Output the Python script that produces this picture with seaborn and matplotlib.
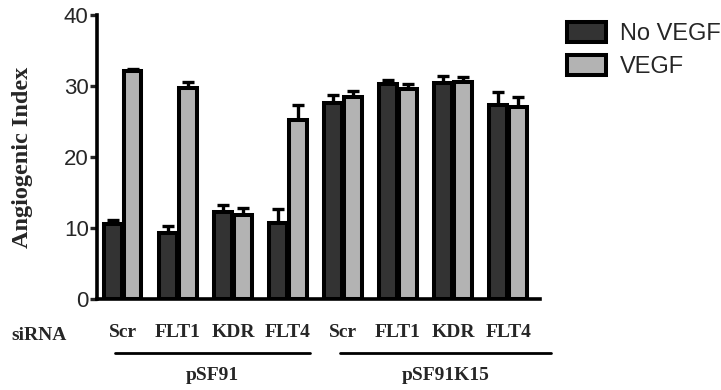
import numpy as np
import pandas as pd
import matplotlib
matplotlib.use("Agg")
import matplotlib.pyplot as plt
import matplotlib.transforms as mtransforms
import seaborn as sns

# ---------- data ----------
constructs = ["pSF91", "pSF91K15"]
sirnas = ["Scr", "FLT1", "KDR", "FLT4"]
treatments = ["No VEGF", "VEGF"]

no_vegf = [10.6, 9.3, 12.3, 10.7, 27.6, 30.3, 30.4, 27.3]
no_vegf_err = [0.5, 1.0, 1.0, 2.0, 1.2, 0.6, 1.0, 1.9]
vegf = [32.1, 29.7, 11.8, 25.2, 28.5, 29.6, 30.6, 27.0]
vegf_err = [0.3, 0.8, 1.0, 2.1, 0.8, 0.7, 0.7, 1.4]

groups = [f"{c} {s}" for c in constructs for s in sirnas]
tick_labels = [s for c in constructs for s in sirnas]

df = pd.DataFrame({
    "Group": groups * 2,
    "Treatment": [treatments[0]] * len(groups) + [treatments[1]] * len(groups),
    "Index": no_vegf + vegf,
})

sns.set_style("white")
plt.rcParams["font.family"] = ["Liberation Sans", "DejaVu Sans"]

fig = plt.figure(figsize=(7.21, 3.90), dpi=100)
ax = fig.add_axes([97 / 721, 1 - 299 / 390, (540 - 97) / 721, (299 - 15) / 390])

sns.barplot(data=df, x="Group", y="Index", hue="Treatment", order=groups,
            hue_order=treatments, palette=["#333333", "#b3b3b3"],
            width=0.72, gap=0.12, edgecolor="black", linewidth=2.9,
            errorbar=None, ax=ax, zorder=3)

# upward-only error bars on top of each bar
for cont, errs in zip(ax.containers, [no_vegf_err, vegf_err]):
    xs = [b.get_x() + b.get_width() / 2 for b in cont]
    hs = [b.get_height() for b in cont]
    ax.errorbar(xs, hs, yerr=[np.zeros(len(errs)), errs], fmt="none",
                ecolor="black", elinewidth=2.4, capsize=4, capthick=2.4, zorder=2)

ax.set_ylim(0, 40)
ax.set_xlim(-0.47, 7.58)
ax.set_yticks([0, 10, 20, 30, 40])
ax.tick_params(axis="y", length=5, width=2.4, labelsize=16, pad=1, left=True)
ax.set_xticks(range(len(groups)))
ax.set_xticklabels(tick_labels, fontfamily="Liberation Serif", fontweight="bold", fontsize=14)
ax.tick_params(axis="x", length=0, pad=18)
ax.set_xlabel("")
ax.set_ylabel("Angiogenic Index", fontfamily="Liberation Serif", fontweight="bold",
              fontsize=17.5, labelpad=22)
for side in ["top", "right"]:
    ax.spines[side].set_visible(False)
for side in ["left", "bottom"]:
    ax.spines[side].set_linewidth(2.6)
    ax.spines[side].set_color("black")

fig.text(39 / 721, 1 - 335 / 390, "siRNA", fontfamily="Liberation Serif",
         fontweight="bold", fontsize=14, ha="center", va="center")

# construct brackets below the siRNA labels
trans = mtransforms.blended_transform_factory(ax.transData, ax.transAxes)
for (x0, x1), name in zip([(-0.15, 3.4), (3.95, 7.78)], constructs):
    ax.plot([x0, x1], [-0.189, -0.189], color="black", lw=2, transform=trans, clip_on=False)
    ax.text((x0 + x1) / 2, -0.27, name, transform=trans, ha="center", va="center",
            fontfamily="Liberation Serif", fontweight="bold", fontsize=14)

leg = ax.legend(loc="upper left", bbox_to_anchor=(567 / 721, 1 - 22 / 390),
                bbox_transform=fig.transFigure, frameon=False, fontsize=17,
                handlelength=1.65, handleheight=0.93, handletextpad=0.6,
                labelspacing=0.4, borderpad=0, borderaxespad=0)
for h in leg.legend_handles:
    h.set_linewidth(2.9)

fig.savefig("out.png", dpi=100)
